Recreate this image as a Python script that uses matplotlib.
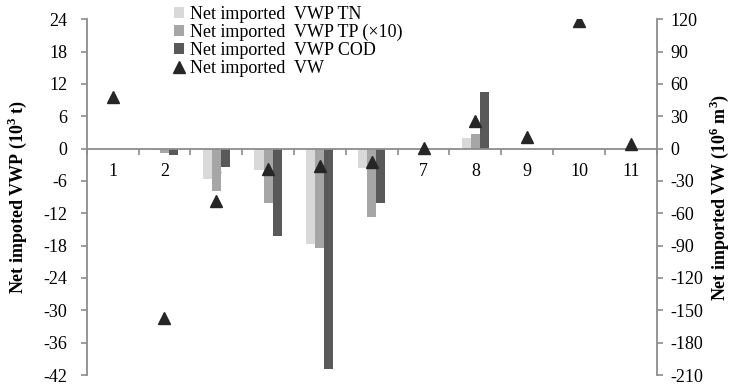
import matplotlib
matplotlib.use("Agg")
import matplotlib.pyplot as plt
import numpy as np

plt.rcParams['font.family'] = ['Liberation Serif', 'DejaVu Serif']
plt.rcParams['mathtext.fontset'] = 'custom'
plt.rcParams['mathtext.rm'] = 'Liberation Serif'
plt.rcParams['mathtext.bf'] = 'Liberation Serif:bold'

categories = ['1', '2', '3', '4', '5', '6', '7', '8', '9', '10', '11']
vwp_tn = [0, -0.3, -5.6, -4.0, -17.7, -3.6, 0, 2.0, 0, 0, 0]
vwp_tp10 = [0, -0.8, -7.8, -10.1, -18.5, -12.7, 0, 2.8, 0, 0, 0]
vwp_cod = [0, -1.2, -3.4, -16.3, -40.9, -10.1, 0, 10.6, 0, 0, 0]
vw = [48, -157, -49, -19, -16, -12, 1, 26, 11, 118, 4.5]

left_ticks = list(range(-42, 25, 6))
right_ticks = list(range(-210, 121, 30))

c_tn = '#d9d9d9'
c_tp = '#a6a6a6'
c_cod = '#595959'
c_vw = '#262626'
spine_c = '#8c8c8c'
FS = 13

fig = plt.figure(figsize=(7.31, 3.85), dpi=100)
ax = fig.add_axes([86.7/731, 10.0/385, 570/731, 355.7/385])
x = np.arange(1, len(categories) + 1)
w = 0.175
ax.bar(x - w, vwp_tn, w, color=c_tn, label='Net imported  VWP TN', zorder=2)
ax.bar(x, vwp_tp10, w, color=c_tp, label='Net imported  VWP TP (\u00d710)', zorder=2)
ax.bar(x + w, vwp_cod, w, color=c_cod, label='Net imported  VWP COD', zorder=2)

ax.set_xlim(0.5, len(categories) + 0.5)
ax.set_ylim(-42, 24)
ax.set_yticks(left_ticks)
ax.set_yticklabels([str(t) for t in left_ticks])
ax.spines['top'].set_visible(False)
ax.spines['right'].set_visible(False)
ax.spines['bottom'].set_position(('data', 0))
for s in ['left', 'bottom']:
    ax.spines[s].set_color(spine_c)
    ax.spines[s].set_linewidth(1.3)
ax.set_xticks(np.arange(0.5, len(categories) + 1, 1.0))
ax.set_xticklabels([])
ax.set_xticks(x, minor=True)
ax.set_xticklabels(categories, minor=True)
ax.tick_params(axis='x', which='major', direction='out', length=4, color=spine_c, width=1.2)
ax.tick_params(axis='x', which='minor', length=0, pad=10, labelsize=FS)
ax.tick_params(axis='y', direction='out', length=4, color=spine_c, width=1.2, labelsize=FS, pad=10)
ax.set_ylabel('Net impoted VWP (10$^{\\mathbf{3}}$ t)', fontsize=FS, fontweight='bold', labelpad=10)

ax2 = ax.twinx()
ax2.plot(x, vw, linestyle='none', marker='^', markersize=9, color=c_vw, label='Net imported  VW', zorder=5)
ax2.set_ylim(-210, 120)
ax2.set_yticks(right_ticks)
ax2.set_yticklabels([str(t) for t in right_ticks])
for s in ['top', 'left', 'bottom']:
    ax2.spines[s].set_visible(False)
ax2.spines['right'].set_color(spine_c)
ax2.spines['right'].set_linewidth(1.3)
ax2.tick_params(axis='y', direction='out', length=4, color=spine_c, width=1.2, labelsize=FS, pad=6)
ax2.set_ylabel('Net imported VW (10$^{\\mathbf{6}}$ m$^{\\mathbf{3}}$)', fontsize=FS, fontweight='bold', labelpad=3)

h1, l1 = ax.get_legend_handles_labels()
h2, l2 = ax2.get_legend_handles_labels()
leg = ax2.legend(h1 + h2, l1 + l2, loc='upper left', bbox_to_anchor=(170/731, 383/385), bbox_transform=fig.transFigure,
                 frameon=False, fontsize=FS, handlelength=0.6, handleheight=0.6, handletextpad=0.3,
                 labelspacing=0.05, borderpad=0.2, borderaxespad=0)

fig.savefig('out.png', dpi=100)
